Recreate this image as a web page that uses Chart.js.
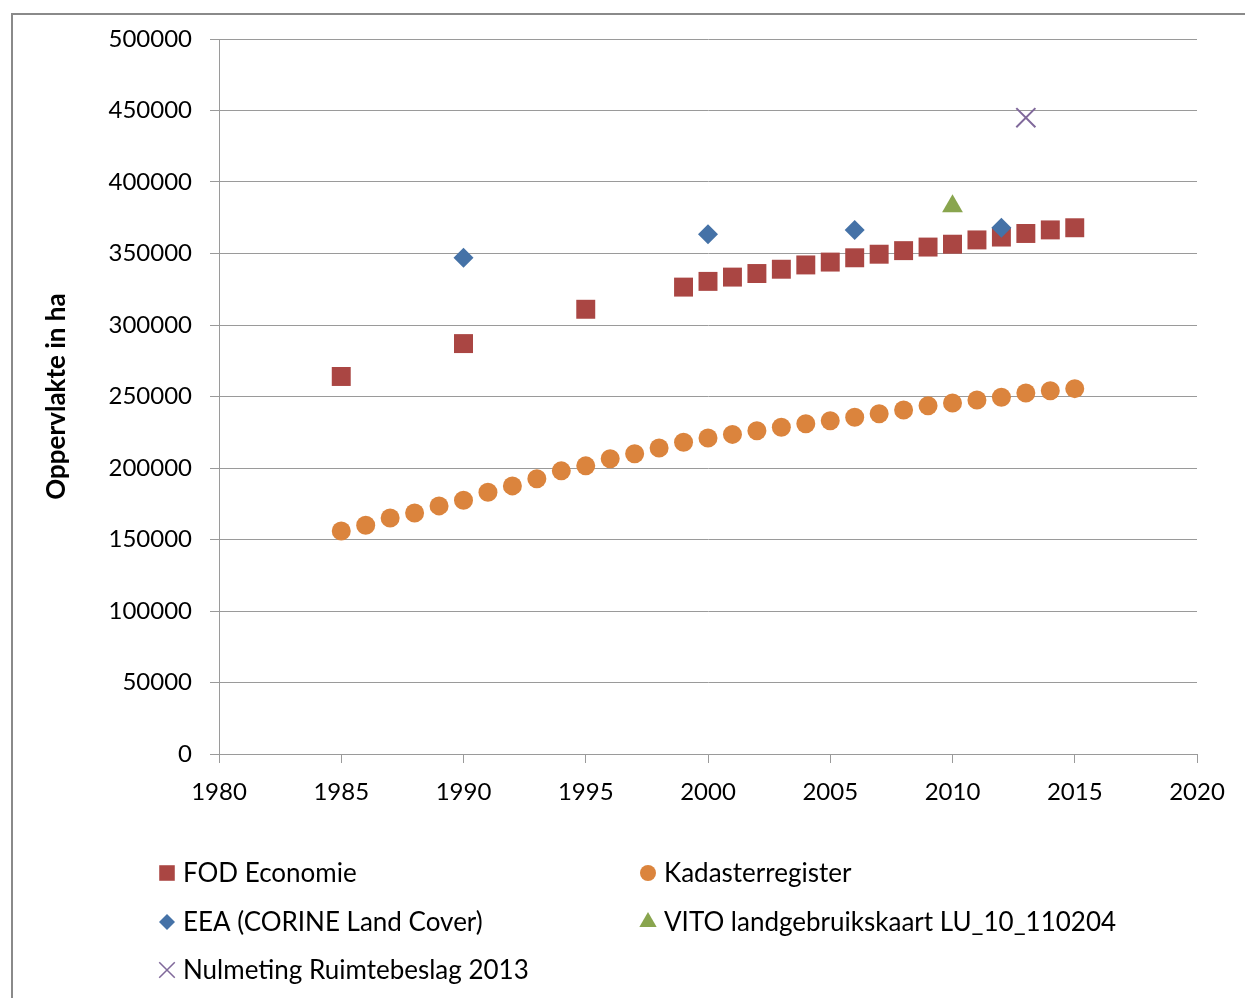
<!DOCTYPE html>
<html>
<head>
<meta charset="utf-8">
<title>Oppervlakte in ha</title>
<script src="https://cdn.jsdelivr.net/npm/chart.js@4/dist/chart.umd.min.js"></script>
<style>
  html, body { margin: 0; padding: 0; background: #fff; }
  #wrap { width: 1245px; height: 998px; position: relative; }
</style>
</head>
<body>
<div id="wrap"><canvas id="chart" width="1245" height="998"></canvas></div>
<script>
// Data
const fodYears = [1985, 1990, 1995, 1999, 2000, 2001, 2002, 2003, 2004, 2005, 2006, 2007, 2008, 2009, 2010, 2011, 2012, 2013, 2014, 2015];
const fodValues = [264000, 287000, 311000, 326500, 330500, 333500, 336000, 339000, 342000, 344000, 347000, 349500, 352000, 354500, 356500, 359500, 361500, 364000, 366500, 368000];

const kadasterYears = [1985, 1986, 1987, 1988, 1989, 1990, 1991, 1992, 1993, 1994, 1995, 1996, 1997, 1998, 1999, 2000, 2001, 2002, 2003, 2004, 2005, 2006, 2007, 2008, 2009, 2010, 2011, 2012, 2013, 2014, 2015];
const kadasterValues = [156000, 160000, 165000, 168500, 173500, 177500, 183000, 187500, 192500, 198000, 201500, 206500, 210000, 214000, 218000, 221000, 223500, 226000, 228500, 231000, 233000, 235500, 238000, 240500, 243500, 245500, 247500, 249500, 252500, 254000, 255500];

const eeaYears = [1990, 2000, 2006, 2012];
const eeaValues = [347000, 363500, 366500, 368000];

const vitoYears = [2010];
const vitoValues = [383000];

const nulmetingYears = [2013];
const nulmetingValues = [445000];

const seriesLabels = ['FOD Economie', 'Kadasterregister', 'EEA (CORINE Land Cover)', 'VITO landgebruikskaart LU_10_110204', 'Nulmeting Ruimtebeslag 2013'];

const xTicks = [1980, 1985, 1990, 1995, 2000, 2005, 2010, 2015, 2020];
const yTicks = [0, 50000, 100000, 150000, 200000, 250000, 300000, 350000, 400000, 450000, 500000];

const FONT = 'Lato, "Open Sans", sans-serif';
const GRID = '#9a9a9a';

function toPoints(xs, ys) {
  return xs.map((x, i) => ({ x: x, y: ys[i] }));
}

// Outer frame like the original picture
const framePlugin = {
  id: 'frame',
  beforeDraw(chart) {
    const ctx = chart.ctx;
    ctx.save();
    ctx.fillStyle = '#ffffff';
    ctx.fillRect(0, 0, chart.width, chart.height);
    ctx.strokeStyle = '#8a8a8a';
    ctx.lineWidth = 2;
    ctx.beginPath();
    ctx.moveTo(12, chart.height + 5);
    ctx.lineTo(12, 14);
    ctx.lineTo(chart.width + 5, 14);
    ctx.stroke();
    ctx.restore();
  }
};

// Two-column legend below the plot
const legendPlugin = {
  id: 'gridLegend',
  afterDraw(chart) {
    const ctx = chart.ctx;
    const colX = [167, 648];
    const rowY = [873, 922, 970];
    const sizes = { rect: 11, circle: 8, rectRot: 8, triangle: 10, crossRot: 11 };
    ctx.save();
    ctx.font = '26px ' + FONT;
    ctx.textBaseline = 'middle';
    ctx.textAlign = 'left';
    chart.data.datasets.forEach((ds, i) => {
      const x = colX[i % 2];
      const y = rowY[Math.floor(i / 2)];
      ctx.fillStyle = ds.backgroundColor;
      ctx.strokeStyle = ds.borderColor;
      ctx.lineWidth = 1.5;
      Chart.helpers.drawPoint(ctx, {
        pointStyle: ds.pointStyle,
        radius: sizes[ds.pointStyle],
        rotation: 0,
        borderWidth: ds.pointStyle === 'crossRot' ? 1.5 : 0
      }, x, y);
      ctx.fillStyle = '#000';
      ctx.fillText(ds.label, x + 16, y + 1);
    });
    ctx.restore();
  }
};

const ctx = document.getElementById('chart').getContext('2d');
new Chart(ctx, {
  type: 'scatter',
  data: {
    datasets: [
      {
        label: seriesLabels[0],
        data: toPoints(fodYears, fodValues),
        pointStyle: 'rect',
        pointRadius: 13.4,
        backgroundColor: '#AA4643',
        borderColor: '#AA4643',
        borderWidth: 0,
        order: 5
      },
      {
        label: seriesLabels[1],
        data: toPoints(kadasterYears, kadasterValues),
        pointStyle: 'circle',
        pointRadius: 9.5,
        backgroundColor: '#DB843D',
        borderColor: '#DB843D',
        borderWidth: 0,
        order: 4
      },
      {
        label: seriesLabels[2],
        data: toPoints(eeaYears, eeaValues),
        pointStyle: 'rectRot',
        pointRadius: 10,
        backgroundColor: '#4572A7',
        borderColor: '#4572A7',
        borderWidth: 0,
        order: 1
      },
      {
        label: seriesLabels[3],
        data: toPoints(vitoYears, vitoValues),
        pointStyle: 'triangle',
        pointRadius: 12,
        backgroundColor: '#89A54E',
        borderColor: '#89A54E',
        borderWidth: 0,
        order: 2
      },
      {
        label: seriesLabels[4],
        data: toPoints(nulmetingYears, nulmetingValues),
        pointStyle: 'crossRot',
        pointRadius: 13.5,
        backgroundColor: '#80699B',
        borderColor: '#80699B',
        borderWidth: 2,
        order: 3
      }
    ]
  },
  options: {
    responsive: false,
    animation: false,
    events: [],
    layout: { padding: { top: 39, right: 48, bottom: 174, left: 0 } },
    plugins: {
      legend: { display: false },
      tooltip: { enabled: false }
    },
    scales: {
      x: {
        type: 'linear',
        min: 1980,
        max: 2020,
        afterBuildTicks: (axis) => { axis.ticks = xTicks.map(v => ({ value: v })); },
        afterFit: (axis) => { axis.height = 70; },
        grid: { drawOnChartArea: false, drawTicks: true, tickLength: 9, color: GRID, lineWidth: 1 },
        border: { display: true, color: GRID, width: 1 },
        ticks: {
          color: '#000',
          padding: 15,
          maxRotation: 0,
          font: { family: FONT, size: 24 },
          callback: (v) => String(v)
        }
      },
      y: {
        type: 'linear',
        min: 0,
        max: 500000,
        afterBuildTicks: (axis) => { axis.ticks = yTicks.map(v => ({ value: v })); },
        afterFit: (axis) => { axis.width = 219; },
        grid: { drawOnChartArea: true, drawTicks: true, tickLength: 9, color: GRID, lineWidth: 1 },
        border: { display: true, color: GRID, width: 1 },
        title: {
          display: true,
          text: 'Oppervlakte in ha',
          color: '#000',
          padding: { top: 41, bottom: 0 },
          font: { family: FONT, size: 26, weight: 'bold' }
        },
        ticks: {
          color: '#000',
          padding: 18,
          font: { family: FONT, size: 24 },
          callback: (v) => String(v)
        }
      }
    }
  },
  plugins: [framePlugin, legendPlugin]
});
</script>
</body>
</html>
